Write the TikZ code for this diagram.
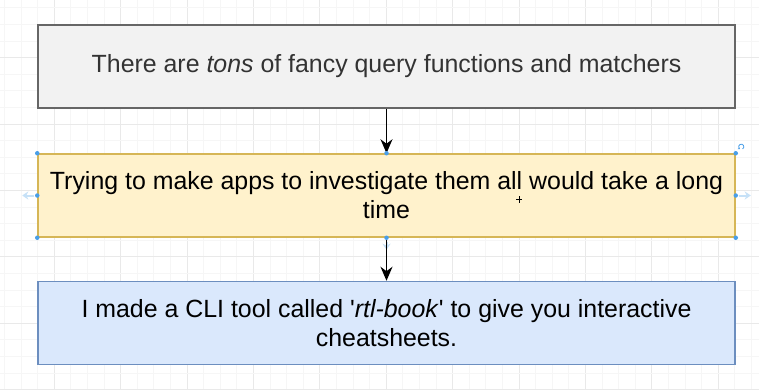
\documentclass[tikz,border=0pt]{standalone}
\usepackage{fontspec}
\setmainfont{Liberation Sans}
\usetikzlibrary{arrows.meta}

\definecolor{gridminor}{HTML}{F6F6F6}
\definecolor{gridmajor}{HTML}{E9E9E9}
\definecolor{grayfill}{HTML}{F2F2F2}
\definecolor{graystroke}{HTML}{666666}
\definecolor{graytext}{HTML}{333333}
\definecolor{yellowfill}{HTML}{FFF2CC}
\definecolor{yellowstroke}{HTML}{D6B656}
\definecolor{bluefill}{HTML}{DAE8FC}
\definecolor{bluestroke}{HTML}{6C8EBF}
\definecolor{handle}{HTML}{4A9FE8}
\definecolor{hoverarrow}{HTML}{C6E1F7}

\tikzset{
  flowbox/.style={rectangle, line width=1.5pt, minimum width=697pt,
    minimum height=83pt, inner sep=0pt, align=center,
    font=\fontsize{24.9}{29}\selectfont},
  graybox/.style={flowbox, draw=graystroke, fill=grayfill, text=graytext},
  yellowbox/.style={flowbox, draw=yellowstroke, fill=yellowfill, text=black},
  bluebox/.style={flowbox, draw=bluestroke, fill=bluefill, text=black},
  flowarrow/.style={draw=black, line width=1.4pt,
    -{Stealth[length=14pt, width=12pt, inset=4.5pt]}},
  gripdot/.style={circle, fill=handle, inner sep=0pt, minimum size=4.5pt},
  hover/.style={draw=hoverarrow, line width=2pt,
    -{Stealth[length=6pt, width=8pt]}},
}

\begin{document}
\begin{tikzpicture}[x=1pt, y=-1pt]
  % canvas
  \fill[white] (0,0) rectangle (759,390);
  \useasboundingbox (0,0) rectangle (759,390);

  % background grid: minor lines every 16.6, every fourth one stronger
  \foreach \i in {0,...,45} {
    \pgfmathsetmacro{\gx}{4.4+16.6*\i}
    \pgfmathtruncatemacro{\gm}{mod(\i,4)}
    \ifnum\gm=3
      \draw[gridmajor, line width=0.8pt] (\gx,0) -- (\gx,390);
    \else
      \draw[gridminor, line width=0.8pt] (\gx,0) -- (\gx,390);
    \fi
  }
  \foreach \j in {0,...,23} {
    \pgfmathsetmacro{\gy}{7.8+16.6*\j}
    \pgfmathtruncatemacro{\gm}{mod(\j,4)}
    \ifnum\gm=3
      \draw[gridmajor, line width=0.8pt] (0,\gy) -- (759,\gy);
    \else
      \draw[gridminor, line width=0.8pt] (0,\gy) -- (759,\gy);
    \fi
  }

  % flow boxes
  \node[graybox] (tons) at (386.5,66.5)
    {There are \textit{tons} of fancy query functions and matchers};
  \node[yellowbox] (apps) at (386.5,195.5)
    {Trying to make apps to investigate them all would take a long\\time};
  \node[bluebox] (cli) at (386.5,323)
    {I made a CLI tool called \textquotesingle\textit{rtl-book}\textquotesingle\ to give you interactive\\cheatsheets.};

  % connectors
  \draw[hover] (apps.south) ++(0,4) coordinate (hovS) -- ++(0,8);
  \draw[flowarrow] (tons.south) -- (apps.north);
  \draw[flowarrow] (apps.south) -- (cli.north);

  % selection handles of the middle box
  \foreach \a in {north west, north, north east, west, east,
                  south west, south, south east}
    \node[gripdot] at (apps.\a) {};
  \coordinate (hovW) at ([xshift=-3pt]apps.west);
  \coordinate (hovE) at ([xshift=3pt]apps.east);
  \draw[hover] (hovW) -- ++(-12,0);
  \draw[hover] (hovE) -- ++(12,0);

  % rotation handle
  \coordinate (rot) at ([xshift=5.5pt, yshift=6.5pt]apps.north east);
  \draw[handle, line width=0.8pt, -{Stealth[length=2pt, width=2.5pt]}]
    ([shift={(60:2.6)}]rot) arc[start angle=60, end angle=-240, radius=2.6];

  % pointer cursor
  \coordinate (cursor) at (519,199);
  \draw[black, line width=1pt] ([xshift=-3pt]cursor) -- ([xshift=3pt]cursor);
  \draw[black, line width=1pt] ([yshift=-3.5pt]cursor) -- ([yshift=3.5pt]cursor);
\end{tikzpicture}
\end{document}
